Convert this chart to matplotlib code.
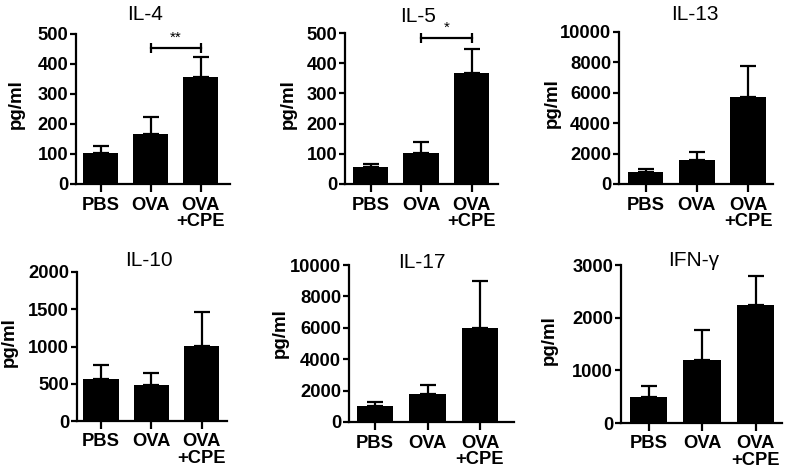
import matplotlib
matplotlib.use("Agg")
import matplotlib.pyplot as plt

plt.rcParams['font.family'] = ['Liberation Sans', 'DejaVu Sans']

groups = ["PBS", "OVA", "OVA\n+CPE"]
titles = ["IL-4", "IL-5", "IL-13", "IL-10", "IL-17", "IFN-γ"]
means = {
    "IL-4": [104, 167, 357],
    "IL-5": [55, 103, 367],
    "IL-13": [810, 1580, 5740],
    "IL-10": [560, 480, 1010],
    "IL-17": [1020, 1780, 5970],
    "IFN-γ": [495, 1200, 2240],
}
errs = {
    "IL-4": [23, 56, 68],
    "IL-5": [12, 37, 80],
    "IL-13": [180, 505, 2030],
    "IL-10": [185, 170, 450],
    "IL-17": [230, 560, 3000],
    "IFN-γ": [215, 570, 550],
}
ymax = {"IL-4": 500, "IL-5": 500, "IL-13": 10000, "IL-10": 2000, "IL-17": 10000, "IFN-γ": 3000}
ystep = {"IL-4": 100, "IL-5": 100, "IL-13": 2000, "IL-10": 500, "IL-17": 2000, "IFN-γ": 1000}
sig = {"IL-4": ("**", 454), "IL-5": ("*", 483)}

W, H = 787, 471
# layout in pixels: axis_left, center0, spacing, right, top, bottom, title(x,y), ylabel(right x, center y)
layout = {
    "IL-4": (76, 100.5, 50, 230, 34, 184, (145, 14), (25, 104)),
    "IL-5": (345, 370.5, 50.5, 498, 33, 184, (418, 16), (297, 104)),
    "IL-13": (619, 645.5, 51.3, 773, 32, 184, (695, 14), (561, 103)),
    "IL-10": (77, 101, 50.3, 227, 272, 421, (149, 261), (18, 342)),
    "IL-17": (349, 375, 52.5, 514, 265, 422, (422, 263), (289, 333)),
    "IFN-γ": (621, 648.5, 53.5, 782, 265, 423, (694, 261), (558, 340)),
}

fig = plt.figure(figsize=(W / 100, H / 100), dpi=100)
lw = 1.6
fs = 13.2
for t in titles:
    L, c0, s, R, T, B, (tx, ty), (lx, ly) = layout[t]
    ax = fig.add_axes([L / W, 1 - B / H, (R - L) / W, (B - T) / H])
    x = list(range(len(groups)))
    ax.bar(x, means[t], width=0.7, color="black", zorder=2)
    ax.errorbar(x, means[t], yerr=[[0] * 3, errs[t]], fmt="none", ecolor="black",
                elinewidth=lw, capsize=6, capthick=lw, zorder=1)
    ax.set_xlim(-(c0 - L) / s, (R - c0) / s)
    ax.set_ylim(0, ymax[t])
    ax.set_yticks(range(0, ymax[t] + 1, ystep[t]))
    ax.set_xticks(x)
    ax.set_xticklabels(groups, fontweight="bold", fontsize=fs, linespacing=0.95)
    for lab in ax.get_yticklabels():
        lab.set_fontweight("bold")
        lab.set_fontsize(fs)
    for sp in ["top", "right"]:
        ax.spines[sp].set_visible(False)
    for sp in ["left", "bottom"]:
        ax.spines[sp].set_linewidth(lw)
    ax.tick_params(axis="y", length=4.5, width=lw, pad=1.2)
    ax.tick_params(axis="x", length=5.5, width=lw, pad=3.5)
    ax.set_ylabel("pg/ml", fontweight="bold", fontsize=13.5)
    ax.yaxis.set_label_coords(lx / W, 1 - ly / H, transform=fig.transFigure)
    fig.text(tx / W, 1 - ty / H, t, ha="center", va="center", fontsize=15)
    if t in sig:
        star, yv = sig[t]
        ax.plot([1, 2], [yv, yv], color="black", lw=lw, clip_on=False)
        ax.errorbar([1, 2], [yv, yv], yerr=ymax[t] * 0.035, fmt="none", ecolor="black",
                    elinewidth=lw, capsize=0, clip_on=False)
        ax.text(1.5, yv + ymax[t] * 0.02, star, ha="center", va="bottom", fontsize=11)

fig.savefig("out.png", dpi=100)
